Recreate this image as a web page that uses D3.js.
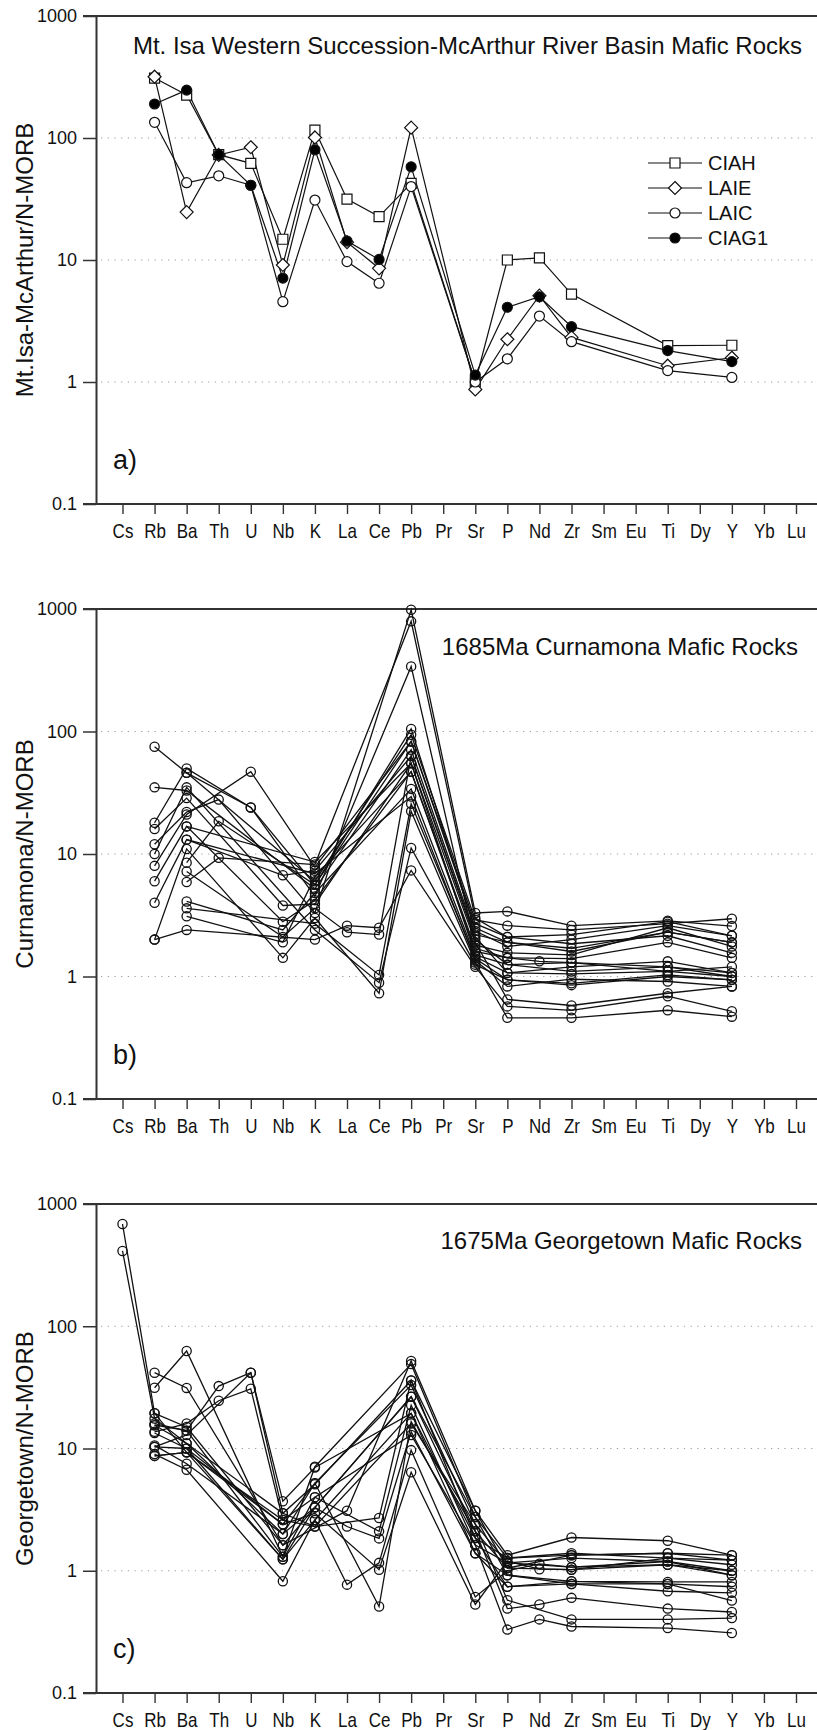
<!DOCTYPE html>
<html>
<head>
<meta charset="utf-8">
<script src="https://cdn.jsdelivr.net/npm/d3@7"></script>
<style>
body { margin: 0; background: #fff; }
text { font-family: "Liberation Sans", Arial, sans-serif; fill: #111; }
</style>
</head>
<body>
<script>
var N = null;

// element order along the x axis
var elements = ["Cs","Rb","Ba","Th","U","Nb","K","La","Ce","Pb","Pr","Sr","P","Nd","Zr","Sm","Eu","Ti","Dy","Y","Yb","Lu"];
var yTicks = [0.1, 1, 10, 100, 1000];

// a) Mt Isa / McArthur, normalised to N-MORB
var isaCols = ["Rb","Ba","Th","U","Nb","K","La","Ce","Pb","Sr","P","Nd","Zr","Ti","Y"];
var ciah  = [310, 225, 73, 62, 14.8, 116, 31.6, 22.7, 42.5, 1.0, 10, 10.4, 5.26, 1.99, 2.0];
var laie  = [318, 24.7, 72.6, 84, 9.1, 101, 14, 8.55, 121.6, 0.87, 2.24, 5.1, 2.32, 1.36, 1.58];
var laic  = [134.5, 43, 49, 41, 4.55, 31, 9.7, 6.45, 40, 1.0, 1.55, 3.47, 2.14, 1.24, 1.09];
var ciag1 = [190, 247, 73, 41, 7.1, 80, 14.3, 10.1, 58, 1.14, 4.1, 5.0, 2.84, 1.81, 1.47];
var isaNames = ["CIAH", "LAIE", "LAIC", "CIAG1"];

// b) Curnamona samples
var curnaCols = ["Rb","Ba","Th","U","Nb","K","La","Ce","Pb","Sr","P","Nd","Zr","Ti","Y"];
var curnamona = [
  [75, 46, N, N, N, 6.0, N, N, 94, 2.9, 2.6, N, 2.4, 2.7, 2.96],
  [35, 33, N, N, N, 5.2, N, N, 71, 2.2, 1.9, N, 1.6, 2.3, 1.9],
  [18, 50, N, 24, N, 4.5, N, N, 340, 1.8, 1.56, N, 1.5, 2.5, 1.76],
  [16, 28.6, N, N, 3.8, 3.9, N, N, 55, 1.5, 1.25, N, 1.1, 1.2, 1.0],
  [12, 22, 27.8, N, N, 3.3, N, N, 985, 3.3, 3.4, N, 2.6, 2.85, 2.58],
  [10, 35, N, N, N, 2.4, N, 0.89, 11.2, 1.25, 0.94, N, 0.88, 1.03, 0.94],
  [8, 21, N, 47, N, 7.8, N, N, 83, 2.7, 2.1, N, 1.85, 2.15, 1.56],
  [6, 16.8, N, N, 2.8, 4.2, N, N, 47, 1.6, 1.42, 1.33, 1.3, 1.1, 1.2],
  [4, 13.1, N, N, N, 6.9, N, N, 29.5, 1.35, 0.83, N, 0.95, 0.91, 0.83],
  [2, 2.4, N, N, N, 2.0, 2.6, 2.5, 7.35, 1.2, 0.57, N, 0.53, 0.69, 0.52],
  [2, 11, N, N, 1.42, 3.0, N, 0.73, 22.3, 1.3, 0.46, N, 0.46, 0.53, 0.47],
  [N, 8.5, 18.5, N, N, 5.6, N, N, 105, 2.35, 1.76, N, 2.0, 2.6, 2.15],
  [N, 7.2, N, N, 2.1, 3.6, 2.3, 2.2, 63, 2.1, 1.07, N, 1.2, 1.33, 1.07],
  [N, 5.9, 9.3, N, N, 8.2, N, N, 793, 3.0, 2.1, N, 2.2, 2.8, 2.15],
  [N, 4.1, N, N, 2.4, 4.8, N, N, 34, 1.45, 1.07, N, 1.05, 1.1, 1.0],
  [N, 3.6, N, N, N, 2.7, N, 1.03, 25.7, 1.4, 0.94, N, 0.85, 1.0, 0.94],
  [N, 3.1, N, N, 1.9, 6.5, N, N, 47, 1.7, 1.42, N, 1.4, 1.9, 1.42],
  [N, 13.1, N, N, 6.7, 7.3, N, N, 63, 2.0, 1.25, N, 1.3, 1.2, 1.07],
  [N, 46, N, 24, N, 5.6, N, N, 83, 2.5, 1.9, N, 1.7, 2.3, 1.9],
  [N, 16.8, N, N, N, 8.6, N, N, 55, 1.9, 0.65, N, 0.58, 0.73, 0.83]
];

// c) Georgetown samples
var georgeCols = ["Cs","Rb","Ba","Th","U","Nb","K","La","Ce","Pb","Sr","P","Nd","Zr","Ti","Y"];
var georgetown = [
  [686, 19.4, 9.3, N, N, 2.4, 5.2, N, N, 33, 2.4, 1.16, N, 1.07, 1.19, 1.0],
  [413, 17.6, 11, N, N, 2.0, 3.3, N, N, 26.5, 2.1, 1.05, N, 1.02, 1.12, 0.92],
  [N, 41.7, 31.3, N, N, 1.62, N, 3.1, N, 52, 3.1, 1.34, N, 1.87, 1.76, 1.34],
  [N, 31.4, 62.8, N, N, 1.3, 7.1, N, N, 49, 2.75, 1.27, N, 1.34, 1.39, 1.22],
  [N, 15.5, 14, 32.4, 41.7, 2.95, 2.3, N, 2.7, 36, 1.85, 1.27, N, 1.39, 1.27, 1.12],
  [N, 13.7, 16, 24.6, 30.8, 2.6, 4.0, N, 2.1, 22.6, 1.62, 1.16, N, 1.27, 1.19, 0.92],
  [N, 10.3, 12.9, N, 41.7, 3.7, 7.0, N, N, 19.4, 1.39, 0.92, N, 0.82, 0.81, 0.81],
  [N, 8.7, 9.3, N, N, 1.24, 3.3, 2.3, 1.84, 13.7, 1.39, 0.74, N, 0.78, 0.68, 0.66],
  [N, 9.0, 6.7, N, N, 0.82, 2.6, 0.77, 1.16, 9.7, 0.61, 1.0, 1.14, 1.07, 1.12, 1.0],
  [N, 10.6, 7.5, N, N, 2.0, 5.2, N, 0.51, 16.6, 2.1, 0.49, 0.53, 0.6, 0.49, 0.46],
  [N, 13.4, 10, N, N, 2.4, 2.95, N, 1.02, 6.4, 0.53, 1.2, 1.03, 1.02, 1.27, 1.22],
  [N, 16, 14, N, N, 1.3, 4.0, N, N, 12.9, 1.62, 0.33, 0.4, 0.35, 0.34, 0.31],
  [N, 8.7, 9.3, N, N, 2.6, 2.3, N, N, 16, 2.4, 0.575, N, 0.4, 0.4, 0.41],
  [N, 19.4, 15, N, N, 1.62, 3.3, N, N, 26.5, 2.75, 0.92, N, 0.78, 0.78, 0.74],
  [N, 15.5, 11, N, N, 2.95, 5.1, N, N, 36, 3.1, 1.05, N, 1.34, 1.39, 1.34],
  [N, 10.3, 10, N, N, 1.24, 2.6, N, N, 19.4, 1.85, 0.74, N, 0.82, 0.78, 0.57]
];

var W = 817, H = 1730, axisX = 96;

var svg = d3.select("body").append("svg")
  .attr("width", W).attr("height", H);

var x = d3.scalePoint().domain(elements).range([122.5, 796]);

// turn a row of values into {k, v} points, skipping blanks
function pts(cols, row) {
  return cols.map(function(c, i) { return {k: c, v: row[i]}; })
    .filter(function(d) { return d.v != null; });
}

var diamond = "M0,-6.5L6.5,0L0,6.5L-6.5,0Z";
var square = "M-5,-5H5V5H-5Z";

function drawPanel(p) {
  var y = d3.scaleLog().domain([0.1, 1000]).range([p.bottom, p.top]);
  var g = svg.append("g");

  // dotted grid
  g.selectAll(".grid").data([1, 10, 100]).enter().append("line")
    .attr("x1", axisX + 5).attr("x2", W)
    .attr("y1", function(d) { return y(d); }).attr("y2", function(d) { return y(d); })
    .attr("stroke", "#9a9a9a").attr("stroke-width", 1.2)
    .attr("stroke-dasharray", "1.2,5.5");

  // y axis
  var ya = g.append("g").attr("transform", "translate(" + axisX + ",0)")
    .call(d3.axisLeft(y).tickValues(yTicks).tickSize(13).tickSizeOuter(0).tickPadding(6)
      .tickFormat(function(d) { return d < 1 ? "0.1" : String(d); }));
  ya.select(".domain").attr("stroke", "#333").attr("stroke-width", 2);
  ya.selectAll(".tick line").attr("stroke", "#333").attr("stroke-width", 1.5);
  ya.selectAll(".tick text").style("font-size", "18px").attr("fill", "#111");

  // top and bottom frame lines
  g.append("line").attr("x1", 83).attr("x2", W).attr("y1", p.top).attr("y2", p.top)
    .attr("stroke", "#333").attr("stroke-width", 2);
  g.append("line").attr("x1", 83).attr("x2", W).attr("y1", p.bottom).attr("y2", p.bottom)
    .attr("stroke", "#333").attr("stroke-width", 2);

  // x axis
  var xa = g.append("g").attr("transform", "translate(0," + p.bottom + ")")
    .call(d3.axisBottom(x).tickSize(10).tickSizeOuter(0));
  xa.select(".domain").remove();
  xa.selectAll(".tick line").attr("stroke", "#333").attr("stroke-width", 1.4);
  xa.selectAll(".tick text")
    .attr("y", 0).attr("dy", 0)
    .attr("transform", "translate(0,34) scale(0.85,1)")
    .style("font-size", "20px").attr("fill", "#111");

  // titles
  g.append("text").attr("x", p.titleX).attr("y", p.top + p.titleDy)
    .attr("text-anchor", "end").style("font-size", "24px").text(p.title);
  g.append("text")
    .attr("transform", "translate(33," + ((p.top + p.bottom) / 2) + ") rotate(-90)")
    .attr("text-anchor", "middle").style("font-size", "24px").text(p.ylabel);
  g.append("text").attr("x", 113).attr("y", p.bottom - 35)
    .style("font-size", "27px").text(p.letter);

  var line = d3.line()
    .x(function(d) { return x(d.k); })
    .y(function(d) { return y(d.v); });

  return {g: g, y: y, line: line};
}

// ---- panel a ----
var pa = drawPanel({top: 16, bottom: 504, titleX: 802, titleDy: 38,
  title: "Mt. Isa Western Succession-McArthur River Basin Mafic Rocks",
  ylabel: "Mt.Isa-McArthur/N-MORB", letter: "a)"});

var isaSeries = [ciah, laie, laic, ciag1];
var isaShape = [square, diamond, "circle", "circle"];
var isaFill = ["#fff", "#fff", "#fff", "#000"];

isaSeries.forEach(function(s) {
  pa.g.append("path").datum(pts(isaCols, s))
    .attr("d", pa.line).attr("fill", "none").attr("stroke", "#111").attr("stroke-width", 1.2);
});
isaSeries.forEach(function(s, i) {
  var sel = pa.g.selectAll(null).data(pts(isaCols, s)).enter();
  if (isaShape[i] == "circle") {
    sel.append("circle").attr("cx", function(d) { return x(d.k); })
      .attr("cy", function(d) { return pa.y(d.v); }).attr("r", 5)
      .attr("fill", isaFill[i]).attr("stroke", "#111").attr("stroke-width", 1.2);
  } else {
    sel.append("path").attr("d", isaShape[i])
      .attr("transform", function(d) { return "translate(" + x(d.k) + "," + pa.y(d.v) + ")"; })
      .attr("fill", isaFill[i]).attr("stroke", "#111").attr("stroke-width", 1.2);
  }
});

// legend
var lg = pa.g.append("g");
isaNames.forEach(function(name, i) {
  var ly = 163 + i * 25;
  lg.append("line").attr("x1", 648).attr("x2", 702).attr("y1", ly).attr("y2", ly)
    .attr("stroke", "#111").attr("stroke-width", 1.2);
  if (isaShape[i] == "circle") {
    lg.append("circle").attr("cx", 675).attr("cy", ly).attr("r", 5)
      .attr("fill", isaFill[i]).attr("stroke", "#111").attr("stroke-width", 1.2);
  } else {
    lg.append("path").attr("d", isaShape[i]).attr("transform", "translate(675," + ly + ")")
      .attr("fill", isaFill[i]).attr("stroke", "#111").attr("stroke-width", 1.2);
  }
  lg.append("text").attr("x", 708).attr("y", ly + 7).style("font-size", "20px").text(name);
});

// ---- panels b and c: many samples, open circles ----
function drawSamples(pp, cols, rows) {
  rows.forEach(function(r) {
    pp.g.append("path").datum(pts(cols, r))
      .attr("d", pp.line).attr("fill", "none").attr("stroke", "#111").attr("stroke-width", 1.3);
  });
  rows.forEach(function(r) {
    pp.g.selectAll(null).data(pts(cols, r)).enter().append("circle")
      .attr("cx", function(d) { return x(d.k); })
      .attr("cy", function(d) { return pp.y(d.v); })
      .attr("r", 4.6).attr("fill", "none").attr("stroke", "#111").attr("stroke-width", 1.3);
  });
}

var pb = drawPanel({top: 609, bottom: 1099, titleX: 798, titleDy: 46,
  title: "1685Ma Curnamona Mafic Rocks", ylabel: "Curnamona/N-MORB", letter: "b)"});
drawSamples(pb, curnaCols, curnamona);

var pc = drawPanel({top: 1204, bottom: 1693, titleX: 802, titleDy: 45,
  title: "1675Ma Georgetown Mafic Rocks", ylabel: "Georgetown/N-MORB", letter: "c)"});
drawSamples(pc, georgeCols, georgetown);
</script>
</body>
</html>
